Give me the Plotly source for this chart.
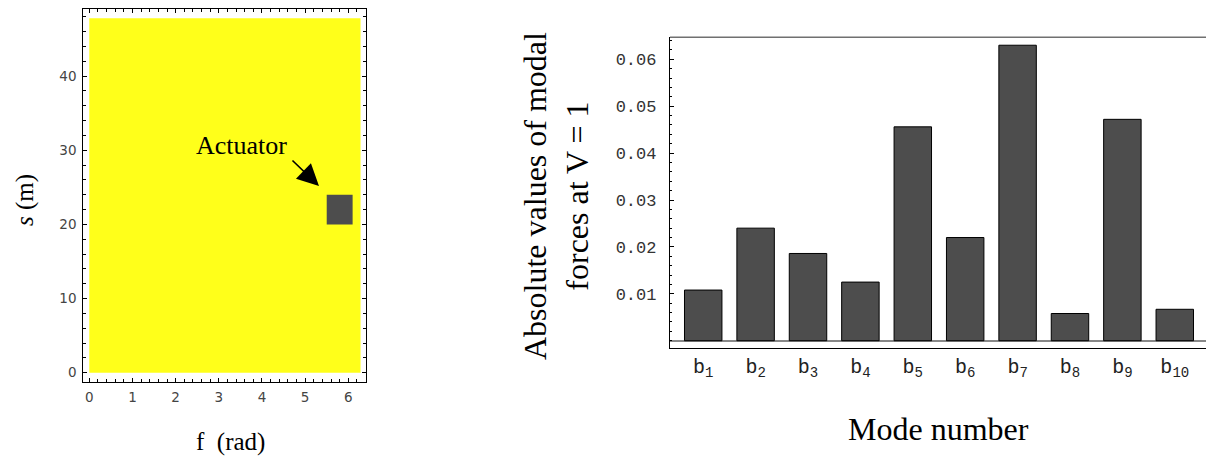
import plotly.graph_objects as go

# ---------------- data ----------------
# left panel: shell surface and actuator patch
shell_phi = [0.0, 6.283]          # rad
shell_s = [0.0, 47.8]             # m
actuator_phi = [5.5, 6.1]
actuator_s = [20.0, 24.0]
left_xticks = [0, 1, 2, 3, 4, 5, 6]
left_yticks = [0, 10, 20, 30, 40]

# right panel: modal forces
modes = ["b<sub>1</sub>", "b<sub>2</sub>", "b<sub>3</sub>", "b<sub>4</sub>", "b<sub>5</sub>",
         "b<sub>6</sub>", "b<sub>7</sub>", "b<sub>8</sub>", "b<sub>9</sub>", "b<sub>10</sub>"]
modal_force = [0.0108, 0.0240, 0.0186, 0.0125, 0.0456, 0.0220, 0.0630, 0.0058, 0.0472, 0.0067]
right_yticks = [0.01, 0.02, 0.03, 0.04, 0.05, 0.06]
right_yticktext = ["0.01", "0.02", "0.03", "0.04", "0.05", "0.06"]

YELLOW = "#FFFF1A"
DARK = "#4d4d4d"
SERIF = "Liberation Serif, Times New Roman, serif"
MONO = "Liberation Mono, Courier New, monospace"

fig = go.Figure()

# shell (yellow rectangle)
fig.add_trace(go.Scatter(
    x=[shell_phi[0], shell_phi[1], shell_phi[1], shell_phi[0], shell_phi[0]],
    y=[shell_s[0], shell_s[0], shell_s[1], shell_s[1], shell_s[0]],
    fill="toself", fillcolor=YELLOW, mode="lines", line=dict(width=0, color=YELLOW),
    xaxis="x", yaxis="y", hoverinfo="skip", showlegend=False))

# actuator patch
fig.add_trace(go.Scatter(
    x=[actuator_phi[0], actuator_phi[1], actuator_phi[1], actuator_phi[0], actuator_phi[0]],
    y=[actuator_s[0], actuator_s[0], actuator_s[1], actuator_s[1], actuator_s[0]],
    fill="toself", fillcolor=DARK, mode="lines", line=dict(width=0, color=DARK),
    xaxis="x", yaxis="y", hoverinfo="skip", showlegend=False))

# bars
fig.add_trace(go.Bar(
    x=modes, y=modal_force, width=0.715,
    marker=dict(color=DARK, line=dict(color="black", width=1)),
    xaxis="x2", yaxis="y2", showlegend=False))

W, H = 1206, 456

fig.update_layout(
    width=W, height=H,
    margin=dict(l=0, r=0, t=0, b=0),
    paper_bgcolor="white", plot_bgcolor="white",
    showlegend=False,
    xaxis=dict(
        domain=[83.3 / W, 366 / W], range=[-0.139, 6.41],
        tickvals=left_xticks, ticks="inside", ticklen=4, tickcolor="black",
        minor=dict(dtick=0.2, ticks="inside", ticklen=2.5, tickcolor="black"),
        showline=True, linecolor="black", linewidth=1.2, mirror="allticks",
        showgrid=False, zeroline=False,
        tickfont=dict(family="DejaVu Sans", size=13.5, color="#444"),
        ticklabelstandoff=3,
    ),
    yaxis=dict(
        domain=[1 - 381.7 / H, 1 - 9.3 / H], range=[-1.21, 49.0],
        tickvals=left_yticks, ticks="inside", ticklen=4, tickcolor="black",
        minor=dict(dtick=2, ticks="inside", ticklen=2.5, tickcolor="black"),
        showline=True, linecolor="black", linewidth=1.2, mirror="allticks",
        showgrid=False, zeroline=False,
        tickfont=dict(family="DejaVu Sans", size=13.5, color="#444"),
        ticklabelstandoff=3,
    ),
    xaxis2=dict(
        domain=[670 / W, 1.0], range=[-0.634, 9.596],
        type="category", ticks="", showline=True, linecolor="black", linewidth=1.3,
        showgrid=False, zeroline=False,
        tickfont=dict(family=MONO, size=20, color="#222"),
        anchor="y2",
    ),
    yaxis2=dict(
        domain=[1 - 347.7 / H, 1 - 37.3 / H], range=[-0.00149, 0.06469],
        tickvals=right_yticks, ticktext=right_yticktext,
        ticks="inside", ticklen=4, tickcolor="black",
        minor=dict(dtick=0.002, ticks="inside", ticklen=2, tickcolor="black"),
        showline=True, linecolor="black", linewidth=1.3,
        showgrid=False, zeroline=True, zerolinecolor="#888", zerolinewidth=1.6,
        tickfont=dict(family=MONO, size=17, color="#333"),
        ticklabelstandoff=9,
        anchor="x2",
    ),
    shapes=[
        dict(type="line", xref="x2 domain", yref="y2 domain", x0=0, x1=1, y0=1, y1=1,
             line=dict(color="#707070", width=1.5)),
    ],
    annotations=[
        # left panel labels
        dict(text="<i>s</i> (m)", xref="paper", yref="paper", x=25 / W, y=1 - 200 / H,
             textangle=-90, showarrow=False, font=dict(family=SERIF, size=25, color="black"),
             xanchor="center", yanchor="middle"),
        dict(text="f  (rad)", xref="paper", yref="paper", x=230 / W, y=1 - 442 / H,
             showarrow=False, font=dict(family=SERIF, size=25, color="black"),
             xanchor="center", yanchor="middle"),
        dict(text="Actuator", xref="x", yref="y", x=3.53, y=30.57, showarrow=False,
             font=dict(family=SERIF, size=26, color="black"),
             xanchor="center", yanchor="middle"),
        dict(text="", xref="x", yref="y", x=5.321, y=25.17, axref="x", ayref="y",
             ax=4.672, ay=28.81, showarrow=True, arrowhead=2, arrowsize=2.7,
             arrowwidth=1.6, arrowcolor="black", standoff=0, startstandoff=0),
        # right panel labels
        dict(text="Absolute values of modal<br>forces at V = 1", xref="paper", yref="paper",
             x=556 / W, y=1 - 196 / H, textangle=-90, showarrow=False,
             font=dict(family=SERIF, size=32, color="black"),
             xanchor="center", yanchor="middle"),
        dict(text="Mode number", xref="paper", yref="paper", x=938 / W, y=1 - 429 / H,
             showarrow=False, font=dict(family=SERIF, size=32, color="black"),
             xanchor="center", yanchor="middle"),
    ],
)

fig.write_html(
    "out.html",
    config={"displayModeBar": False},
    post_script="document.body.style.margin='0px';document.body.style.overflow='hidden';",
)
